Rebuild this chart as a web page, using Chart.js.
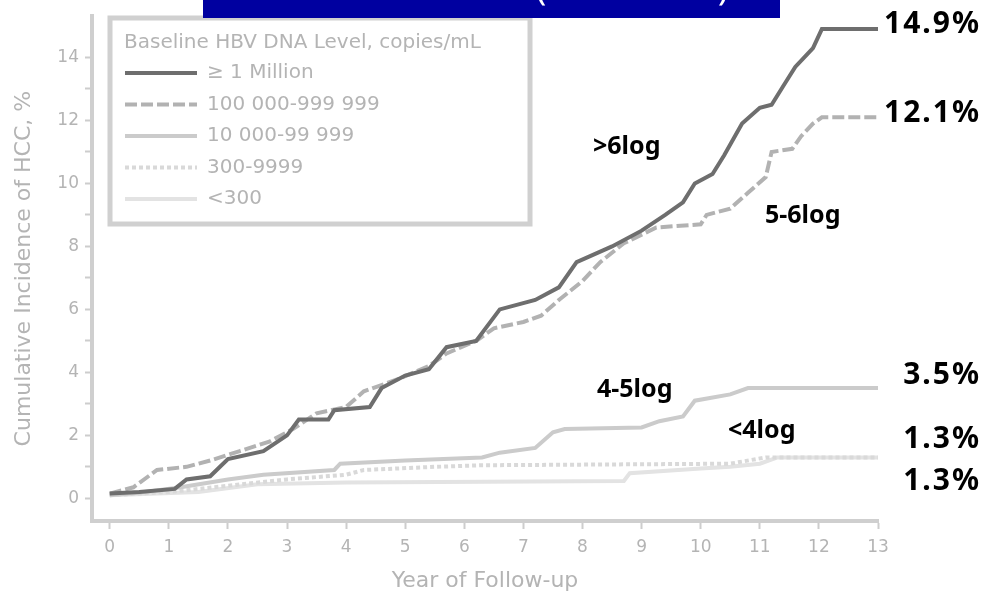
<!DOCTYPE html>
<html lang="en">
<head>
  <meta charset="UTF-8">
  <title>Cumulative Incidence of HCC by Baseline HBV DNA</title>
  <script src="https://cdn.jsdelivr.net/npm/chart.js"></script>
  <style>
    body, html {
      margin: 0;
      padding: 0;
      background: #fff;
      overflow: hidden;
    }
    #wrap {
      position: relative;
      width: 987px;
      height: 604px;
    }
  </style>
</head>
<body>
<div id="wrap"><canvas id="hccChart" width="987" height="604"></canvas></div>
<script>
  // [year of follow-up, cumulative incidence %] for each baseline HBV DNA group
  const over6log = [[0, 0.15], [0.5, 0.2], [1.1, 0.3], [1.3, 0.6], [1.7, 0.7], [2.0, 1.25], [2.6, 1.5],
    [3.0, 2.0], [3.2, 2.5], [3.7, 2.5], [3.8, 2.8], [4.4, 2.9], [4.6, 3.5], [5.0, 3.9], [5.4, 4.1],
    [5.7, 4.8], [6.2, 5.0], [6.6, 6.0], [7.2, 6.3], [7.6, 6.7], [7.9, 7.5], [8.5, 8.0], [9.0, 8.5],
    [9.4, 9.0], [9.7, 9.4], [9.9, 10.0], [10.2, 10.3], [10.4, 10.9], [10.7, 11.9], [11.0, 12.4],
    [11.2, 12.5], [11.4, 13.1], [11.6, 13.7], [11.9, 14.3], [12.05, 14.9], [13, 14.9]];
  const from5to6log = [[0, 0.15], [0.4, 0.35], [0.8, 0.9], [1.3, 1.0], [1.7, 1.2], [2.2, 1.5], [2.7, 1.8],
    [3.1, 2.2], [3.5, 2.7], [4.0, 2.9], [4.3, 3.4], [4.9, 3.8], [5.4, 4.2], [5.7, 4.6], [6.2, 5.0],
    [6.5, 5.4], [7.0, 5.6], [7.3, 5.8], [7.6, 6.3], [8.0, 6.9], [8.3, 7.5], [8.7, 8.1], [9.25, 8.6],
    [10.0, 8.7], [10.1, 9.0], [10.5, 9.2], [10.8, 9.7], [11.1, 10.2], [11.2, 11.0], [11.55, 11.1],
    [11.7, 11.5], [11.9, 11.9], [12.05, 12.1], [13, 12.1]];
  const from4to5log = [[0, 0.1], [0.6, 0.2], [1.2, 0.35], [2.0, 0.6], [2.6, 0.75], [3.8, 0.9], [3.9, 1.1],
    [5.0, 1.2], [6.3, 1.3], [6.6, 1.45], [7.2, 1.6], [7.5, 2.1], [7.7, 2.2], [9.0, 2.25], [9.3, 2.45],
    [9.7, 2.6], [9.9, 3.1], [10.5, 3.3], [10.8, 3.5], [13, 3.5]];
  const from300to4log = [[0, 0.1], [1.0, 0.2], [2.0, 0.4], [3.0, 0.6], [4.0, 0.75], [4.3, 0.9], [5.5, 1.0],
    [6.3, 1.05], [10.5, 1.1], [11.1, 1.3], [13, 1.3]];
  const under300 = [[0, 0.1], [1.5, 0.2], [2.5, 0.45], [4.0, 0.5], [8.7, 0.55], [8.8, 0.8], [10.0, 0.95],
    [10.5, 1.0], [11.0, 1.1], [11.3, 1.3], [13, 1.3]];

  const groupNames = ['\u2265 1 Million', '100 000-999 999', '10 000-99 999', '300-9999', '<300'];
  const legendTitle = 'Baseline HBV DNA Level, copies/mL';
  const curveTags = ['>6log', '5-6log', '4-5log', '<4log'];
  const yearTicks = [0, 1, 2, 3, 4, 5, 6, 7, 8, 9, 10, 11, 12, 13];
  const pctTicks = [0, 1, 2, 3, 4, 5, 6, 7, 8, 9, 10, 11, 12, 13, 14];

  const series = [over6log, from5to6log, from4to5log, from300to4log, under300];
  const lineStyles = [
    { color: '#6e6e6e', dash: [] },
    { color: '#b2b2b2', dash: [12, 4] },
    { color: '#cbcbcb', dash: [] },
    { color: '#d9d9d9', dash: [4, 3] },
    { color: '#e3e3e3', dash: [] }
  ];

  const axisGray = '#b4b4b4';
  const textFont = '"DejaVu Sans", sans-serif';
  const markFont = '"Noto Sans", sans-serif';

  const datasets = series.map((s, i) => ({
    label: groupNames[i],
    data: s.map(([x, y]) => ({ x, y })),
    borderColor: lineStyles[i].color,
    borderDash: lineStyles[i].dash,
    borderWidth: 4,
    pointRadius: 0,
    tension: 0,
    fill: false
  }));

  // legend box, curve tags, end values and the header strip
  const overlay = {
    id: 'overlay',
    beforeDatasetsDraw(chart) {
      const ctx = chart.ctx;
      ctx.save();
      ctx.fillStyle = '#fff';
      ctx.fillRect(110, 18, 420, 206);
      ctx.strokeStyle = '#d0d0d0';
      ctx.lineWidth = 5;
      ctx.strokeRect(110, 18, 420, 206);

      ctx.font = '20px ' + textFont;
      ctx.fillStyle = axisGray;
      ctx.textBaseline = 'middle';
      ctx.textAlign = 'left';
      ctx.fillText(legendTitle, 124, 43);
      chart.data.datasets.forEach((ds, i) => {
        const y = 73 + i * 31.5;
        ctx.strokeStyle = ds.borderColor;
        ctx.lineWidth = 4;
        ctx.setLineDash(ds.borderDash);
        ctx.beginPath();
        ctx.moveTo(125, y);
        ctx.lineTo(197, y);
        ctx.stroke();
        ctx.setLineDash([]);
        ctx.fillText(ds.label, 207, y);
      });
      ctx.restore();
    },
    afterDraw(chart) {
      const ctx = chart.ctx;
      const yScale = chart.scales.y;
      ctx.save();

      // header strip
      ctx.fillStyle = '#0000a0';
      ctx.fillRect(203, 0, 577, 18);
      ctx.fillStyle = '#fff';
      ctx.font = '34px ' + markFont;
      ctx.textBaseline = 'alphabetic';
      ctx.textAlign = 'left';
      ctx.fillText('(', 536, 0);
      ctx.fillText(')', 718, 0);

      // group tags beside the curves
      ctx.fillStyle = '#000';
      ctx.font = 'bold 25px ' + markFont;
      ctx.textBaseline = 'middle';
      const tagPos = [[593, 147], [765, 216], [597, 390], [728, 431]];
      curveTags.forEach((t, i) => ctx.fillText(t, tagPos[i][0], tagPos[i][1]));

      // final cumulative incidence of each group
      ctx.font = 'bold 30px ' + markFont;
      ctx.letterSpacing = '2px';
      ctx.textAlign = 'right';
      const shift = [-5, -4, -13, -18, 24];
      series.forEach((s, i) => {
        const last = s[s.length - 1][1];
        ctx.fillText(last.toFixed(1) + '%', 981, yScale.getPixelForValue(last) + shift[i]);
      });
      ctx.restore();
    }
  };

  new Chart(document.getElementById('hccChart'), {
    type: 'line',
    data: { datasets },
    options: {
      responsive: false,
      animation: false,
      layout: { padding: { top: 8, right: 109, left: 0, bottom: 0 } },
      plugins: {
        legend: { display: false },
        tooltip: { enabled: false }
      },
      scales: {
        x: {
          type: 'linear',
          min: -0.3,
          max: 13,
          afterFit: s => { s.height = 83; },
          afterBuildTicks: s => { s.ticks = yearTicks.map(v => ({ value: v })); },
          grid: { drawOnChartArea: false, drawTicks: true, tickLength: 8, tickWidth: 2, tickColor: '#cdcdcd' },
          border: { color: '#cfcfcf', width: 4 },
          ticks: { color: axisGray, font: { family: textFont, size: 17 }, padding: 8, maxRotation: 0 },
          title: {
            display: true,
            text: 'Year of Follow-up',
            color: axisGray,
            font: { family: textFont, size: 22 },
            padding: { top: 0, bottom: 10 }
          }
        },
        y: {
          min: -0.72,
          max: 15.31,
          afterFit: s => { s.width = 92; },
          afterBuildTicks: s => { s.ticks = pctTicks.map(v => ({ value: v })); },
          grid: { drawOnChartArea: false, drawTicks: true, tickLength: 7, tickWidth: 2, tickColor: '#cdcdcd' },
          border: { color: '#cfcfcf', width: 4 },
          ticks: {
            color: axisGray,
            font: { family: textFont, size: 17 },
            padding: 6,
            callback: v => (v % 2 === 0 ? String(v) : '')
          },
          title: {
            display: true,
            text: 'Cumulative Incidence of HCC, %',
            color: axisGray,
            font: { family: textFont, size: 22 },
            padding: { top: 11, bottom: 0 }
          }
        }
      }
    },
    plugins: [overlay]
  });
</script>
</body>
</html>
